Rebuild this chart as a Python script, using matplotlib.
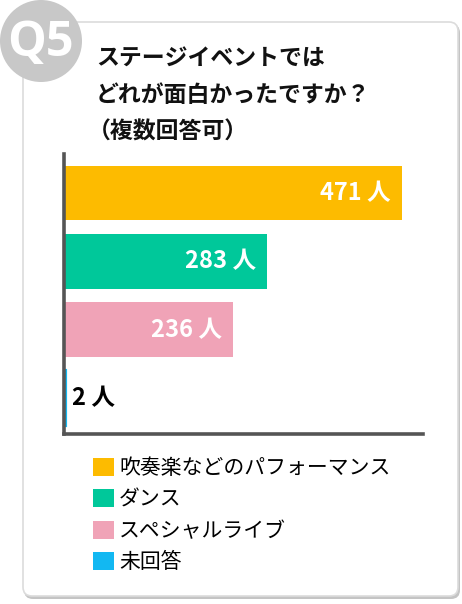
import matplotlib
matplotlib.use('Agg')
import matplotlib.pyplot as plt
from matplotlib.patches import FancyBboxPatch, Circle, Patch

# ---- data ----
categories = ['吹奏楽などのパフォーマンス', 'ダンス', 'スペシャルライブ', '未回答']
values = [471, 283, 236, 2]
colors = ['#FDBB00', '#00C89A', '#F0A3B7', '#12B8F2']
unit = '人'
title_lines = ['ステージイベントでは', 'どれが面白かったですか？', '（複数回答可）']
badge = 'Q5'

plt.rcParams['font.family'] = ['Noto Sans CJK JP', 'DejaVu Sans']

W, H = 462, 604
fig = plt.figure(figsize=(W / 100, H / 100), dpi=100)
fig.patch.set_facecolor('white')

bg = fig.add_axes([0, 0, 1, 1])
bg.set_xlim(0, W)
bg.set_ylim(H, 0)
bg.axis('off')

# card with shadow
bg.add_patch(FancyBboxPatch((24, 24), 436, 575, boxstyle='round,pad=0,rounding_size=9',
                            fc='#c4c4c4', ec='none', zorder=1))
bg.add_patch(FancyBboxPatch((23, 22), 435, 574, boxstyle='round,pad=0,rounding_size=9',
                            fc='white', ec='#dcdcdc', lw=1.2, zorder=2))
# badge
bg.add_patch(Circle((41, 41), 41, fc='#c8c8c8', ec='none', zorder=3))
bg.text(40, 43, badge, color='white', fontsize=35, ha='center', va='center',
        family=['Open Sans', 'DejaVu Sans'], weight='bold', zorder=4)

title_x = [96, 96, 88]
for i, line in enumerate(title_lines):
    bg.text(title_x[i], 58 + i * 37, line, fontsize=16.5, weight='bold', ha='left', va='center',
            color='#111111', zorder=4)

# chart axes
ax = fig.add_axes([64 / W, 1 - 433.5 / H, (423 - 64) / W, (433.5 - 154) / H])
ax.set_facecolor('none')
pos = list(range(len(values)))
edge_w = [3 if v < 10 else 0 for v in values]
ax.barh(pos, values, height=0.8, color=colors, edgecolor=colors, linewidth=edge_w, zorder=2)
ax.set_xlim(0, 500)
ax.set_ylim(3.52, -0.57)
for s in ['top', 'right']:
    ax.spines[s].set_visible(False)
for s in ['left', 'bottom']:
    ax.spines[s].set_color('#555555')
    ax.spines[s].set_linewidth(2.6)
ax.set_xticks([])
ax.set_yticks([])

for p, v in zip(pos, values):
    if v > 50:
        ax.annotate(f'{v} {unit}', xy=(v, p), xytext=(-8, 0), textcoords='offset points',
                    ha='right', va='center', color='white', fontsize=17, weight='bold', zorder=3)
    else:
        ax.annotate(f'{v} {unit}', xy=(v, p), xytext=(5, 0), textcoords='offset points',
                    ha='left', va='center', color='black', fontsize=17, weight='bold', zorder=3)

handles = [Patch(fc=c, ec='none') for c in colors]
fig.legend(handles=handles, labels=categories, loc='upper left',
           bbox_to_anchor=(93 / W, 1 - 457 / H), frameon=False, fontsize=15,
           handlelength=1.0, handleheight=0.95, handletextpad=0.25, labelspacing=0.45,
           borderpad=0, borderaxespad=0)

fig.savefig('out.png', dpi=100)
